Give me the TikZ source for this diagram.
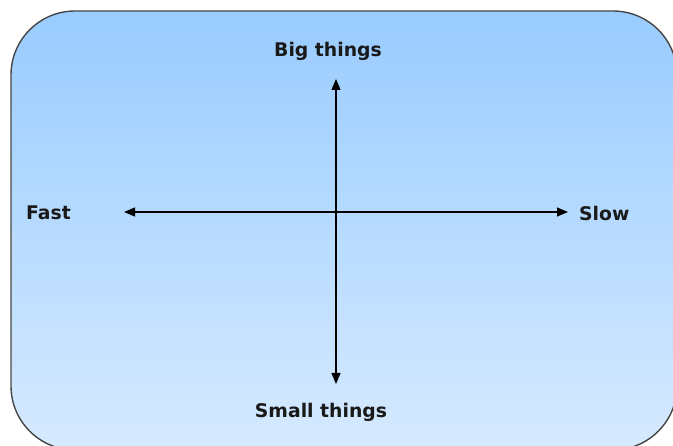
\documentclass[tikz,border=0pt]{standalone}
\usepackage{fontspec}
\setmainfont{DejaVu Sans}
\usetikzlibrary{arrows.meta}
\definecolor{topblue}{RGB}{153,204,255}
\definecolor{botblue}{RGB}{214,234,255}
\definecolor{edge}{RGB}{70,70,70}
\tikzset{
  lbl/.style={font=\bfseries\fontsize{18.8}{20}\selectfont, text=black!90, inner sep=0pt},
  axis/.style={line width=1.2pt, {Triangle[length=11pt,width=9pt]}-{Triangle[length=11pt,width=9pt]}}
}
\begin{document}
\begin{tikzpicture}[x=1pt,y=-1pt]
\useasboundingbox (0,0) rectangle (673,446);
\shade[top color=topblue, bottom color=botblue, draw=edge, line width=1.4pt, rounded corners=64pt]
  (11,11) rectangle (677,450);
\node[lbl] (big) at (328,51) {Big things};
\node[lbl] (small) at (321,412) {Small things};
\node[lbl, anchor=west] (fast) at (26,213) {Fast};
\node[lbl, anchor=west] (slow) at (579,213) {Slow};
\coordinate (vtop) at (336,79);
\coordinate (vbot) at (336,384);
\coordinate (hleft) at (124,212);
\coordinate (hright) at (568,212);
\draw[axis] (vtop) -- (vbot);
\draw[axis] (hleft) -- (hright);
\end{tikzpicture}
\end{document}
